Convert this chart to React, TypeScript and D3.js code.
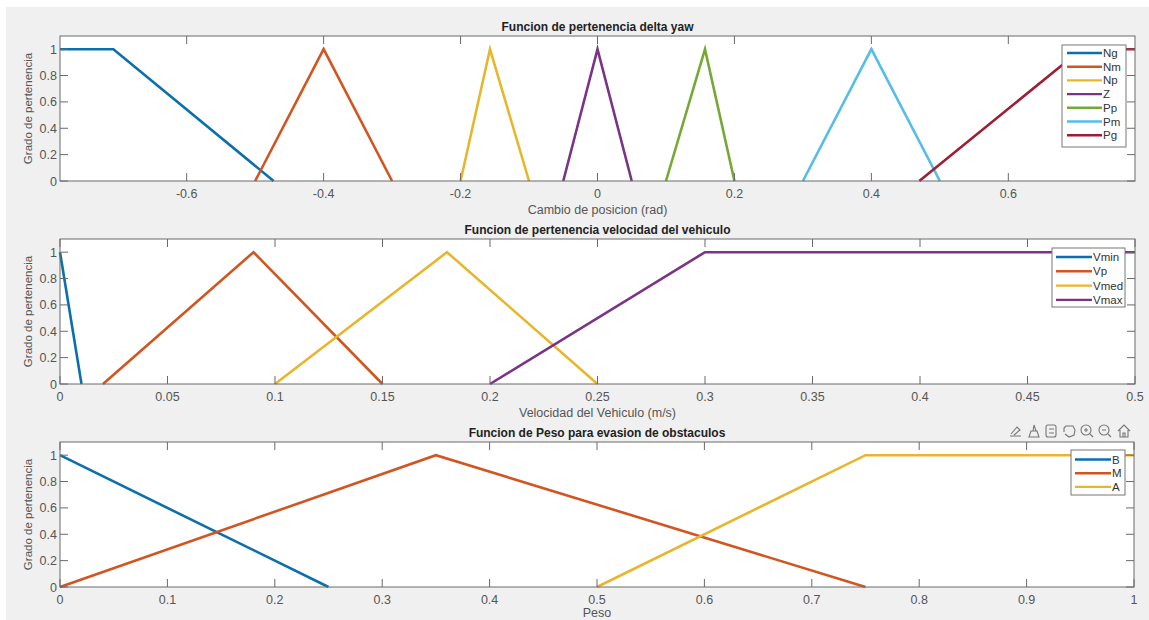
import React from "react";
import * as d3 from "d3";

// delta yaw membership functions
const yawNames = ["Ng", "Nm", "Np", "Z", "Pp", "Pm", "Pg"];
const yawX = [
  [-0.785, -0.707, -0.473],
  [-0.5, -0.4, -0.3],
  [-0.2, -0.157, -0.1],
  [-0.05, 0, 0.05],
  [0.1, 0.157, 0.2],
  [0.3, 0.4, 0.5],
  [0.47, 0.707, 0.785]
];
const yawY = [
  [1, 1, 0],
  [0, 1, 0],
  [0, 1, 0],
  [0, 1, 0],
  [0, 1, 0],
  [0, 1, 0],
  [0, 1, 1]
];
const yawTicks = [-0.6, -0.4, -0.2, 0, 0.2, 0.4, 0.6];

// velocidad del vehiculo
const velNames = ["Vmin", "Vp", "Vmed", "Vmax"];
const velX = [
  [0, 0.01],
  [0.02, 0.09, 0.15],
  [0.1, 0.18, 0.25],
  [0.2, 0.3, 0.5]
];
const velY = [
  [1, 0],
  [0, 1, 0],
  [0, 1, 0],
  [0, 1, 1]
];
const velTicks = [0, 0.05, 0.1, 0.15, 0.2, 0.25, 0.3, 0.35, 0.4, 0.45, 0.5];

// peso
const pesoNames = ["B", "M", "A"];
const pesoX = [
  [0, 0.25],
  [0, 0.35, 0.75],
  [0.5, 0.75, 1]
];
const pesoY = [
  [1, 0],
  [0, 1, 0],
  [0, 1, 1]
];
const pesoTicks = [0, 0.1, 0.2, 0.3, 0.4, 0.5, 0.6, 0.7, 0.8, 0.9, 1];

const yTicks = [0, 0.2, 0.4, 0.6, 0.8, 1];

const colors = ["#0b6fae", "#d25520", "#e8b62c", "#7b3386", "#76a836", "#55bde6", "#9e1e34"];

const font = "'Liberation Sans', Arial, sans-serif";
const textCol = "#555";
const axisCol = "#6a6a6a";

function Panel(props: any) {
  const { p } = props;
  const x = d3.scaleLinear().domain(p.domain).range([p.left, p.right]);
  const y = d3.scaleLinear().domain([0, 1.1]).range([p.bottom, p.top]);
  const line = d3
    .line<[number, number]>()
    .x(d => x(d[0]))
    .y(d => y(d[1]));
  const tl = 8;
  const cx = (p.left + p.right) / 2;
  return (
    <g>
      <rect x={p.left} y={p.top} width={p.right - p.left} height={p.bottom - p.top} fill="#fff" />
      {p.xs.map((xs: number[], i: number) => (
        <path
          key={i}
          d={line(xs.map((v, j) => [v, p.ys[i][j]] as [number, number])) || ""}
          fill="none"
          stroke={colors[i]}
          strokeWidth={2.6}
        />
      ))}
      <rect
        x={p.left}
        y={p.top}
        width={p.right - p.left}
        height={p.bottom - p.top}
        fill="none"
        stroke={axisCol}
        strokeWidth={1}
      />
      {p.ticks.map((t: number) => (
        <g key={"x" + t}>
          <line x1={x(t)} x2={x(t)} y1={p.bottom} y2={p.bottom - tl} stroke={axisCol} />
          <line x1={x(t)} x2={x(t)} y1={p.top} y2={p.top + tl} stroke={axisCol} />
          <text x={x(t)} y={p.bottom + 17} textAnchor="middle" fontSize={12.5} fill={textCol} fontFamily={font}>
            {String(t)}
          </text>
        </g>
      ))}
      {yTicks.map(t => (
        <g key={"y" + t}>
          <line x1={p.left} x2={p.left + tl} y1={y(t)} y2={y(t)} stroke={axisCol} />
          <line x1={p.right} x2={p.right - tl} y1={y(t)} y2={y(t)} stroke={axisCol} />
          <text x={p.left - 3} y={y(t) + 4.5} textAnchor="end" fontSize={12.5} fill={textCol} fontFamily={font}>
            {String(t)}
          </text>
        </g>
      ))}
      <text
        transform={`translate(32,${(p.top + p.bottom) / 2}) rotate(-90)`}
        textAnchor="middle"
        fontSize={11.5}
        fill={textCol}
        fontFamily={font}
      >
        Grado de pertenencia
      </text>
      <text x={cx} y={p.top - 5} textAnchor="middle" fontSize={12} fontWeight="bold" fill="#222" fontFamily={font}>
        {p.title}
      </text>
      <text x={cx} y={p.bottom + p.xlabelOff} textAnchor="middle" fontSize={12.5} fill={textCol} fontFamily={font}>
        {p.xlabel}
      </text>
      <g>
        <rect
          x={p.leg.x0}
          y={p.leg.y0}
          width={p.leg.x1 - p.leg.x0}
          height={p.leg.y1 - p.leg.y0}
          fill="#fff"
          stroke="#777"
          strokeWidth={1}
        />
        {p.names.map((n: string, i: number) => {
          const yy = p.leg.first + i * p.leg.step;
          return (
            <g key={n}>
              <line x1={p.leg.l0} x2={p.leg.l1} y1={yy} y2={yy} stroke={colors[i]} strokeWidth={2.4} />
              <text x={p.leg.l1 + 1} y={yy + 4} fontSize={11.5} fill="#333" fontFamily={font}>
                {n}
              </text>
            </g>
          );
        })}
      </g>
    </g>
  );
}

function Toolbar() {
  const c = "#777";
  const xs = [1016, 1034, 1051, 1069, 1087, 1105, 1124];
  const cy = 431;
  return (
    <g fill="none" stroke={c} strokeWidth={1.1}>
      <path d={`M${xs[0] - 6},${cy + 5} L${xs[0] + 5},${cy + 5} M${xs[0] - 5},${cy + 3} L${xs[0] + 1},${cy - 4} L${xs[0] + 4},${cy - 1} L${xs[0] - 2},${cy + 4}`} />
      <path d={`M${xs[1] - 5},${cy + 6} L${xs[1] + 5},${cy + 6} L${xs[1] + 3},${cy} L${xs[1] - 3},${cy} Z M${xs[1] - 1},${cy} L${xs[1]},${cy - 6} L${xs[1] + 2},${cy}`} />
      <rect x={xs[2] - 5} y={cy - 6} width={10} height={12} rx={2} />
      <path d={`M${xs[2] - 2},${cy - 2} L${xs[2] + 3},${cy - 2} M${xs[2] - 2},${cy + 2} L${xs[2] + 3},${cy + 2}`} />
      <path d={`M${xs[3] - 5},${cy + 1} L${xs[3] - 5},${cy - 3} L${xs[3] - 3},${cy - 5} L${xs[3] + 4},${cy - 5} L${xs[3] + 6},${cy - 1} L${xs[3] + 5},${cy + 4} L${xs[3]},${cy + 6} L${xs[3] - 4},${cy + 3}`} />
      <circle cx={xs[4] - 1} cy={cy - 1} r={5} />
      <path d={`M${xs[4] + 3},${cy + 3} L${xs[4] + 6},${cy + 6} M${xs[4] - 3},${cy - 1} L${xs[4] + 1},${cy - 1} M${xs[4] - 1},${cy - 3} L${xs[4] - 1},${cy + 1}`} />
      <circle cx={xs[5] - 1} cy={cy - 1} r={5} />
      <path d={`M${xs[5] + 3},${cy + 3} L${xs[5] + 6},${cy + 6} M${xs[5] - 3},${cy - 1} L${xs[5] + 1},${cy - 1}`} />
      <path d={`M${xs[6] - 6},${cy} L${xs[6]},${cy - 6} L${xs[6] + 6},${cy} M${xs[6] - 4},${cy - 1} L${xs[6] - 4},${cy + 6} L${xs[6] + 4},${cy + 6} L${xs[6] + 4},${cy - 1} M${xs[6] - 1},${cy + 6} L${xs[6] - 1},${cy + 2} L${xs[6] + 1},${cy + 2} L${xs[6] + 1},${cy + 6}`} />
    </g>
  );
}

export default function App() {
  const panels = [
    {
      title: "Funcion de pertenencia delta yaw",
      xlabel: "Cambio de posicion (rad)",
      xlabelOff: 33,
      domain: [-0.785, 0.785],
      ticks: yawTicks,
      names: yawNames,
      xs: yawX,
      ys: yawY,
      left: 60,
      right: 1135,
      top: 36,
      bottom: 181,
      leg: { x0: 1062, x1: 1126, y0: 45, y1: 147, first: 53, step: 13.7, l0: 1067, l1: 1102 }
    },
    {
      title: "Funcion de pertenencia velocidad del vehiculo",
      xlabel: "Velocidad del Vehiculo (m/s)",
      xlabelOff: 33,
      domain: [0, 0.5],
      ticks: velTicks,
      names: velNames,
      xs: velX,
      ys: velY,
      left: 60,
      right: 1135,
      top: 239,
      bottom: 384,
      leg: { x0: 1052, x1: 1125, y0: 248, y1: 307, first: 257, step: 14.3, l0: 1056, l1: 1092 }
    },
    {
      title: "Funcion de Peso para evasion de obstaculos",
      xlabel: "Peso",
      xlabelOff: 30,
      domain: [0, 1],
      ticks: pesoTicks,
      names: pesoNames,
      xs: pesoX,
      ys: pesoY,
      left: 60,
      right: 1134,
      top: 442,
      bottom: 587,
      leg: { x0: 1071, x1: 1125, y0: 450, y1: 495, first: 459.5, step: 13.7, l0: 1075, l1: 1111 }
    }
  ];
  return (
    <svg width={1149} height={620} style={{ position: "fixed", left: 0, top: 0, display: "block" }}>
      <rect x={0} y={0} width={1149} height={620} fill="#fff" />
      <rect x={6} y={7} width={1143} height={613} fill="#f0f0f0" />
      {panels.map((p, i) => (
        <Panel key={i} p={p} />
      ))}
      <Toolbar />
    </svg>
  );
}
